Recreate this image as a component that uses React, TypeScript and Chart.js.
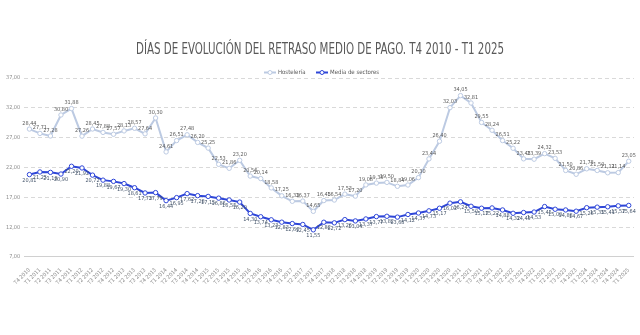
import React, { useEffect, useRef } from "react";
import { Chart, registerables } from "chart.js";

Chart.register(...registerables);

const categories: string[] = [
  "T4 2010",
  "T1 2011", "T2 2011", "T3 2011", "T4 2011",
  "T1 2012", "T2 2012", "T3 2012", "T4 2012",
  "T1 2013", "T2 2013", "T3 2013", "T4 2013",
  "T1 2014", "T2 2014", "T3 2014", "T4 2014",
  "T1 2015", "T2 2015", "T3 2015", "T4 2015",
  "T1 2016", "T2 2016", "T3 2016", "T4 2016",
  "T1 2017", "T2 2017", "T3 2017", "T4 2017",
  "T1 2018", "T2 2018", "T3 2018", "T4 2018",
  "T1 2019", "T2 2019", "T3 2019", "T4 2019",
  "T1 2020", "T2 2020", "T3 2020", "T4 2020",
  "T1 2021", "T2 2021", "T3 2021", "T4 2021",
  "T1 2022", "T2 2022", "T3 2022", "T4 2022",
  "T1 2023", "T2 2023", "T3 2023", "T4 2023",
  "T1 2024", "T2 2024", "T3 2024", "T4 2024",
  "T1 2025",
];

const hosteleria: number[] = [
  28.44,
  27.71, 27.28, 30.8, 31.88,
  27.26, 28.45, 27.88, 27.57,
  28.13, 28.57, 27.64, 30.3,
  24.61, 26.51, 27.48, 26.2,
  25.25, 22.53, 21.86, 23.2,
  20.56, 20.14, 18.58, 17.25,
  16.33, 16.37, 14.65, 16.45,
  16.54, 17.53, 17.2, 19.08,
  19.38, 19.5, 18.84, 19.06,
  20.3, 23.44, 26.4, 32.03,
  34.05, 32.81, 29.55, 28.24,
  26.51, 25.22, 23.45, 23.39,
  24.32, 23.53, 21.5, 20.86,
  21.78, 21.5, 21.11, 21.14,
  23.05,
];

const mediaSectores: number[] = [
  20.81,
  21.25, 21.18, 20.9, 22.2,
  21.92, 20.72, 19.88, 19.67,
  19.3, 18.61, 17.73, 17.79,
  16.44, 16.95, 17.62, 17.28,
  17.15, 16.86, 16.55, 16.2,
  14.3, 13.74, 13.23, 12.83,
  12.6, 12.45, 11.55, 12.82,
  12.72, 13.26, 13.04, 13.37,
  13.77, 13.82, 13.68, 14.12,
  14.37, 14.73, 15.17, 16.02,
  16.24, 15.5, 15.17, 15.22,
  14.88, 14.32, 14.45, 14.53,
  15.45, 15.0, 14.88, 14.67,
  15.26, 15.35, 15.41, 15.57,
  15.64,
];

const seriesNames: string[] = ["Hostelería", "Media de sectores"];
const titleText = "DÍAS DE EVOLUCIÓN DEL RETRASO MEDIO DE PAGO. T4 2010 - T1 2025";

const FONT = '"DejaVu Sans Condensed", "Liberation Sans Narrow", sans-serif';
const GREY = "#BCCAE2";
const BLUE = "#2E46D8";

const fmt = (v: number) => v.toFixed(2).replace(".", ",");

const dataLabelPlugin = {
  id: "dataLabels",
  afterDatasetsDraw(chart: any) {
    const ctx = chart.ctx;
    ctx.save();
    ctx.font = `5.5px ${FONT}`;
    ctx.textAlign = "center";
    chart.data.datasets.forEach((ds: any, di: number) => {
      const meta = chart.getDatasetMeta(di);
      ctx.fillStyle = di === 0 ? "#595959" : "#44546A";
      ctx.textBaseline = di === 0 ? "bottom" : "top";
      meta.data.forEach((pt: any, i: number) => {
        const v = ds.data[i];
        const y = di === 0 ? pt.y - 3 : pt.y + 3;
        ctx.fillText(fmt(v), pt.x, y);
      });
    });
    ctx.restore();
  },
};

const headerPlugin = {
  id: "header",
  afterDraw(chart: any) {
    const ctx = chart.ctx;
    const cx = chart.width / 2;
    ctx.save();
    ctx.font = `15px ${FONT}`;
    ctx.fillStyle = "#595959";
    ctx.textBaseline = "middle";
    ctx.textAlign = "center";
    const w = ctx.measureText(titleText).width;
    const s = 368 / w;
    ctx.translate(cx, 50);
    ctx.scale(s, 1);
    ctx.fillText(titleText, 0, 0);
    ctx.restore();

    ctx.save();
    ctx.font = `6px ${FONT}`;
    ctx.textBaseline = "middle";
    ctx.textAlign = "left";
    const y = 72.5;
    const items = [
      { name: seriesNames[0], color: GREY, x: 264 },
      { name: seriesNames[1], color: BLUE, x: 316 },
    ];
    items.forEach((it) => {
      ctx.strokeStyle = it.color;
      ctx.lineWidth = 2;
      ctx.beginPath();
      ctx.moveTo(it.x, y);
      ctx.lineTo(it.x + 12, y);
      ctx.stroke();
      ctx.fillStyle = "#ffffff";
      ctx.lineWidth = 1;
      ctx.beginPath();
      ctx.arc(it.x + 6, y, 2, 0, Math.PI * 2);
      ctx.fill();
      ctx.stroke();
      ctx.fillStyle = "#595959";
      ctx.fillText(it.name, it.x + 14, y);
    });
    ctx.restore();
  },
};

export default function App() {
  const ref = useRef<HTMLCanvasElement | null>(null);

  useEffect(() => {
    document.body.style.margin = "0";
    const canvas = ref.current;
    if (!canvas) return;
    const chart = new Chart(canvas, {
      type: "line",
      data: {
        labels: categories,
        datasets: [
          {
            label: seriesNames[0],
            data: hosteleria,
            borderColor: GREY,
            backgroundColor: GREY,
            borderWidth: 2,
            pointRadius: 2.2,
            pointBorderWidth: 1,
            pointBackgroundColor: "#ffffff",
            pointBorderColor: GREY,
            tension: 0,
          },
          {
            label: seriesNames[1],
            data: mediaSectores,
            borderColor: BLUE,
            backgroundColor: BLUE,
            borderWidth: 2,
            pointRadius: 2.2,
            pointBorderWidth: 1,
            pointBackgroundColor: "#ffffff",
            pointBorderColor: BLUE,
            tension: 0,
          },
        ],
      },
      options: {
        responsive: false,
        animation: false,
        layout: { padding: { top: 78, left: 2, right: 6, bottom: 47 } },
        plugins: {
          title: { display: false },
          legend: { display: false },
          tooltip: { enabled: false },
        },
        scales: {
          x: {
            offset: true,
            grid: { display: false },
            border: { display: false },
            ticks: {
              autoSkip: false,
              minRotation: 45,
              maxRotation: 45,
              color: "#8C8C8C",
              font: { family: FONT, size: 5.5 },
              padding: 2,
            },
          },
          y: {
            min: 7,
            max: 37,
            border: {
              display: false,
              dash: (c: any) => (c.tick && c.tick.value === 7 ? [] : [4, 3]),
            },
            grid: {
              color: (c: any) => (c.tick && c.tick.value === 7 ? "#D0D0D0" : "#D9D9D9"),
              lineWidth: 1,
              drawTicks: false,
            },
            ticks: {
              stepSize: 5,
              color: "#8C8C8C",
              font: { family: FONT, size: 5.5 },
              padding: 4,
              callback: (v: any) => fmt(Number(v)),
            },
          },
        },
      },
      plugins: [dataLabelPlugin, headerPlugin],
    });
    return () => chart.destroy();
  }, []);

  return (
    <div style={{ position: "fixed", left: 0, top: 0, width: 640, height: 335, background: "#fff" }}>
      <canvas ref={ref} width={640} height={335} style={{ width: 640, height: 335 }} />
    </div>
  );
}
